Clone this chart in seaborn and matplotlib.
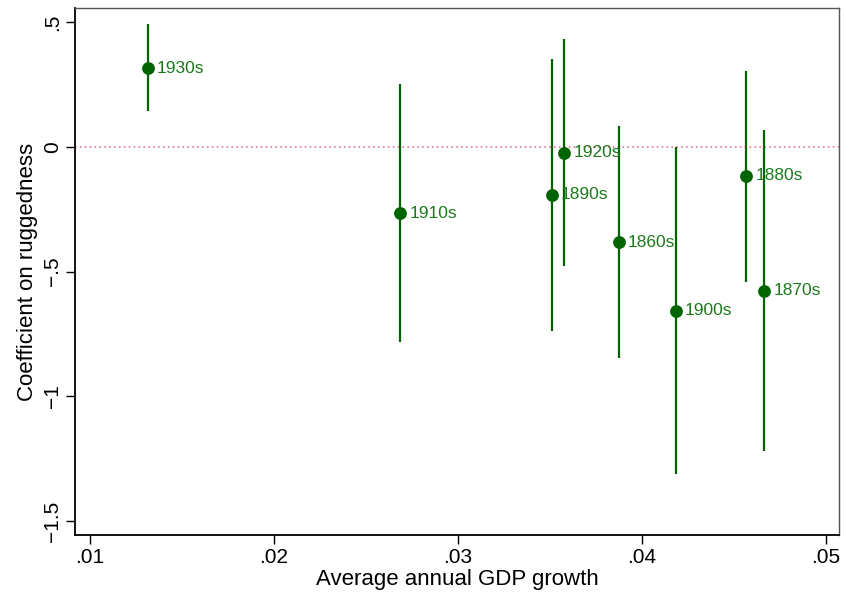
import numpy as np
import pandas as pd
import matplotlib
matplotlib.use("Agg")
import matplotlib.pyplot as plt
import seaborn as sns

# Decade estimates
decades = ["1930s", "1910s", "1890s", "1920s", "1860s", "1900s", "1880s", "1870s"]
gdp_growth = [0.01315, 0.02688, 0.03511, 0.03578, 0.03875, 0.04185, 0.04567, 0.04665]
coef = [0.315, -0.267, -0.192, -0.023, -0.383, -0.657, -0.116, -0.577]
ci_low = [0.143, -0.781, -0.739, -0.478, -0.847, -1.312, -0.541, -1.218]
ci_high = [0.492, 0.254, 0.351, 0.432, 0.083, 0.000, 0.306, 0.067]

y_ticks = [0.5, 0, -0.5, -1, -1.5]
y_ticklabels = [".5", "0", "\u2212.5", "\u22121", "\u22121.5"]
x_ticks = [0.01, 0.02, 0.03, 0.04, 0.05]
x_ticklabels = [".01", ".02", ".03", ".04", ".05"]

df = pd.DataFrame({"decade": decades, "growth": gdp_growth, "coef": coef,
                   "lo": ci_low, "hi": ci_high})

sns.set_style("ticks")
plt.rcParams["font.family"] = ["Liberation Sans", "DejaVu Sans"]
plt.rcParams["text.color"] = "black"
plt.rcParams["axes.labelcolor"] = "black"
plt.rcParams["xtick.color"] = "black"
plt.rcParams["ytick.color"] = "black"

green = "#006400"

fig = plt.figure(figsize=(8.46, 5.95), dpi=100)
ax = fig.add_axes([0.0892, 0.1008, 0.9025, 0.885])

# zero reference line
ax.axhline(0, color="#e0608a", linestyle=(0, (1, 2.2)), linewidth=1.1, zorder=1)

# confidence intervals
ax.vlines(df["growth"], df["lo"], df["hi"], color=green, linewidth=1.6, zorder=2)

# point estimates
sns.scatterplot(data=df, x="growth", y="coef", color=green, s=85,
                edgecolor=green, linewidth=0, zorder=3, ax=ax, legend=False)

for _, r in df.iterrows():
    ax.annotate(r["decade"], (r["growth"], r["coef"]), xytext=(6.5, 0),
                textcoords="offset points", va="center", ha="left",
                fontsize=12.5, color="#1c7a1c", zorder=4)

ax.set_xlim(0.00923, 0.0507)
ax.set_ylim(-1.556, 0.555)
ax.set_xticks(x_ticks)
ax.set_xticklabels(x_ticklabels)
ax.set_yticks(y_ticks)
ax.set_yticklabels(y_ticklabels, rotation=90, va="center")
ax.tick_params(axis="both", labelsize=15, length=6.5, width=1, direction="out", pad=3)

ax.set_xlabel("Average annual GDP growth", fontsize=16, labelpad=1)
ax.set_ylabel("Coefficient on ruggedness", fontsize=16, labelpad=4)

for s in ax.spines.values():
    s.set_linewidth(1.3)
    s.set_color("black")
ax.spines["top"].set_color("#555555")
ax.spines["right"].set_color("#555555")
ax.spines["top"].set_linewidth(1.0)
ax.spines["right"].set_linewidth(1.0)

fig.savefig("out.png", dpi=100)
